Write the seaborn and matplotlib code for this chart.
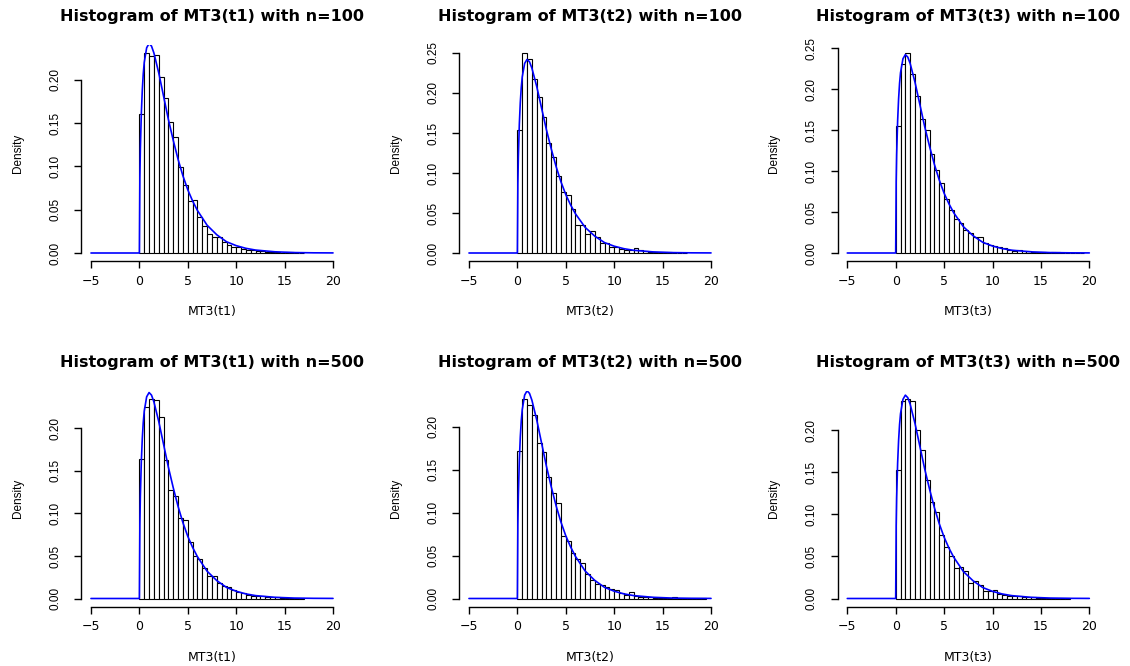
import numpy as np
import pandas as pd
import matplotlib
matplotlib.use("Agg")
import matplotlib.pyplot as plt
import seaborn as sns

# bin width of all histograms (bins start at 0)
BIN_WIDTH = 0.5

variables = ["MT3(t1)", "MT3(t2)", "MT3(t3)"]
sample_sizes = [100, 500]

# bar heights (density)
dens_t1_n100 = [0.161, 0.231, 0.228, 0.229, 0.203, 0.179, 0.151, 0.134, 0.099, 0.078,
                0.060, 0.061, 0.042, 0.031, 0.022, 0.018, 0.019, 0.013, 0.009, 0.007,
                0.007, 0.005, 0.004, 0.003, 0.002, 0.002, 0.0015, 0.001, 0.001, 0.0005,
                0.001, 0.0015, 0.0005, 0.0005]
dens_t2_n100 = [0.154, 0.250, 0.242, 0.218, 0.195, 0.170, 0.138, 0.120, 0.096, 0.076,
                0.072, 0.055, 0.035, 0.035, 0.024, 0.027, 0.020, 0.012, 0.013, 0.008,
                0.0075, 0.005, 0.004, 0.004, 0.0058, 0.004, 0.002, 0.0015, 0.001, 0.001,
                0.0015, 0.0008, 0.0005, 0.0005, 0.0005]
dens_t3_n100 = [0.155, 0.230, 0.244, 0.218, 0.192, 0.164, 0.150, 0.121, 0.101, 0.085,
                0.066, 0.053, 0.041, 0.036, 0.028, 0.024, 0.019, 0.020, 0.012, 0.010,
                0.009, 0.007, 0.006, 0.004, 0.003, 0.004, 0.002, 0.0025, 0.001, 0.001,
                0.0008, 0.0005, 0.0008, 0.001, 0.0005, 0.0003, 0.0003, 0.0003, 0.0003]
dens_t1_n500 = [0.164, 0.225, 0.235, 0.233, 0.213, 0.163, 0.127, 0.120, 0.095, 0.092,
                0.066, 0.050, 0.046, 0.036, 0.026, 0.026, 0.018, 0.015, 0.013, 0.010,
                0.008, 0.006, 0.004, 0.0035, 0.003, 0.0025, 0.002, 0.0015, 0.0015, 0.001,
                0.0008, 0.0005, 0.0005, 0.0003]
dens_t2_n500 = [0.172, 0.233, 0.225, 0.214, 0.181, 0.171, 0.141, 0.123, 0.111, 0.073,
                0.067, 0.053, 0.046, 0.041, 0.029, 0.022, 0.017, 0.0155, 0.013, 0.0105,
                0.0097, 0.0066, 0.004, 0.008, 0.003, 0.0023, 0.002, 0.0012, 0.001, 0.0008,
                0.0008, 0.0004, 0.0018, 0.0004, 0.0003, 0.0003, 0.0002, 0.0002, 0.0002]
dens_t3_n500 = [0.153, 0.235, 0.238, 0.235, 0.200, 0.177, 0.141, 0.115, 0.103, 0.076,
                0.061, 0.050, 0.036, 0.038, 0.033, 0.019, 0.021, 0.016, 0.009, 0.009,
                0.010, 0.005, 0.004, 0.003, 0.0025, 0.003, 0.0017, 0.0014, 0.0016, 0.0008,
                0.0006, 0.0004, 0.0004, 0.0003, 0.0003, 0.0002]

# blue reference density curve
curve_x = [-5, 0, 0.05, 0.1, 0.2, 0.3, 0.4, 0.5, 0.75, 1, 1.25, 1.5, 2, 2.5, 3, 3.5,
           4, 4.5, 5, 5.5, 6, 7, 8, 9, 10, 11, 12, 14, 16, 18, 20]
curve_y = [0, 0, 0.087, 0.120, 0.161, 0.188, 0.207, 0.220, 0.237, 0.242, 0.239, 0.231,
           0.208, 0.181, 0.154, 0.130, 0.108, 0.089, 0.073, 0.060, 0.049, 0.032, 0.021,
           0.013, 0.0085, 0.0054, 0.0034, 0.0014, 0.0005, 0.0002, 0.0001]

panels = [
    [dens_t1_n100, dens_t2_n100, dens_t3_n100],
    [dens_t1_n500, dens_t2_n500, dens_t3_n500],
]

sns.set_style("ticks")
plt.rcParams["font.family"] = ["DejaVu Sans"]
plt.rcParams["axes.linewidth"] = 1.0
plt.rcParams["text.color"] = "black"
plt.rcParams["axes.labelcolor"] = "black"
plt.rcParams["axes.edgecolor"] = "black"
plt.rcParams["xtick.color"] = "black"
plt.rcParams["ytick.color"] = "black"

W, H = 1130, 666
fig = plt.figure(figsize=(W / 100, H / 100), dpi=100)

col_left = [81.3, 459.3, 837.6]
row_top = [45, 390.5]
ax_w, ax_h = 261.4, 216

curve = pd.DataFrame({"x": curve_x, "y": curve_y})

for r, n in enumerate(sample_sizes):
    for c, var in enumerate(variables):
        heights = panels[r][c]
        ax = fig.add_axes([col_left[c] / W, 1 - (row_top[r] + ax_h) / H, ax_w / W, ax_h / H])

        nbins = len(heights)
        bars = pd.DataFrame({"x": (np.arange(nbins) + 0.5) * BIN_WIDTH, "w": heights})
        sns.histplot(data=bars, x="x", weights="w", binwidth=BIN_WIDTH,
                     binrange=(0, nbins * BIN_WIDTH), stat="count",
                     color="white", edgecolor="black", linewidth=0.8, alpha=1, ax=ax)
        sns.lineplot(data=curve, x="x", y="y", color="#0000ff", linewidth=1.2, ax=ax)

        top = max(heights)
        ax.set_xlim(-6, 21)
        ax.set_ylim(-0.04 * top, 1.04 * top)
        ax.set_xticks([-5, 0, 5, 10, 15, 20])
        yt = np.arange(0, 1.04 * top + 1e-9, 0.05)
        ax.set_yticks(yt)
        ax.set_yticklabels([f"{v:.2f}" for v in yt], rotation=90, va="center",
                           family="Liberation Sans", fontsize=8.5)
        ax.set_xticklabels(["\u22125", "0", "5", "10", "15", "20"], fontsize=9)
        ax.spines["bottom"].set_bounds(-5, 20)
        ax.spines["left"].set_bounds(0, yt[-1])
        sns.despine(ax=ax)
        ax.tick_params(axis="x", length=5, width=1.0, pad=5, colors="black")
        ax.tick_params(axis="y", length=5, width=1.0, pad=9.5, colors="black")

        ax.set_title(f"Histogram of {var} with n={n}", fontsize=11.5,
                     fontweight="bold", pad=17, color="black")
        ax.set_xlabel(var, fontsize=9)
        ax.set_ylabel("Density", family="Liberation Sans", fontsize=8.5)
        ax.xaxis.set_label_coords(0.5, -0.205)
        ax.yaxis.set_label_coords(-0.22, 0.5)

fig.savefig("out.png", dpi=100, facecolor="white")
